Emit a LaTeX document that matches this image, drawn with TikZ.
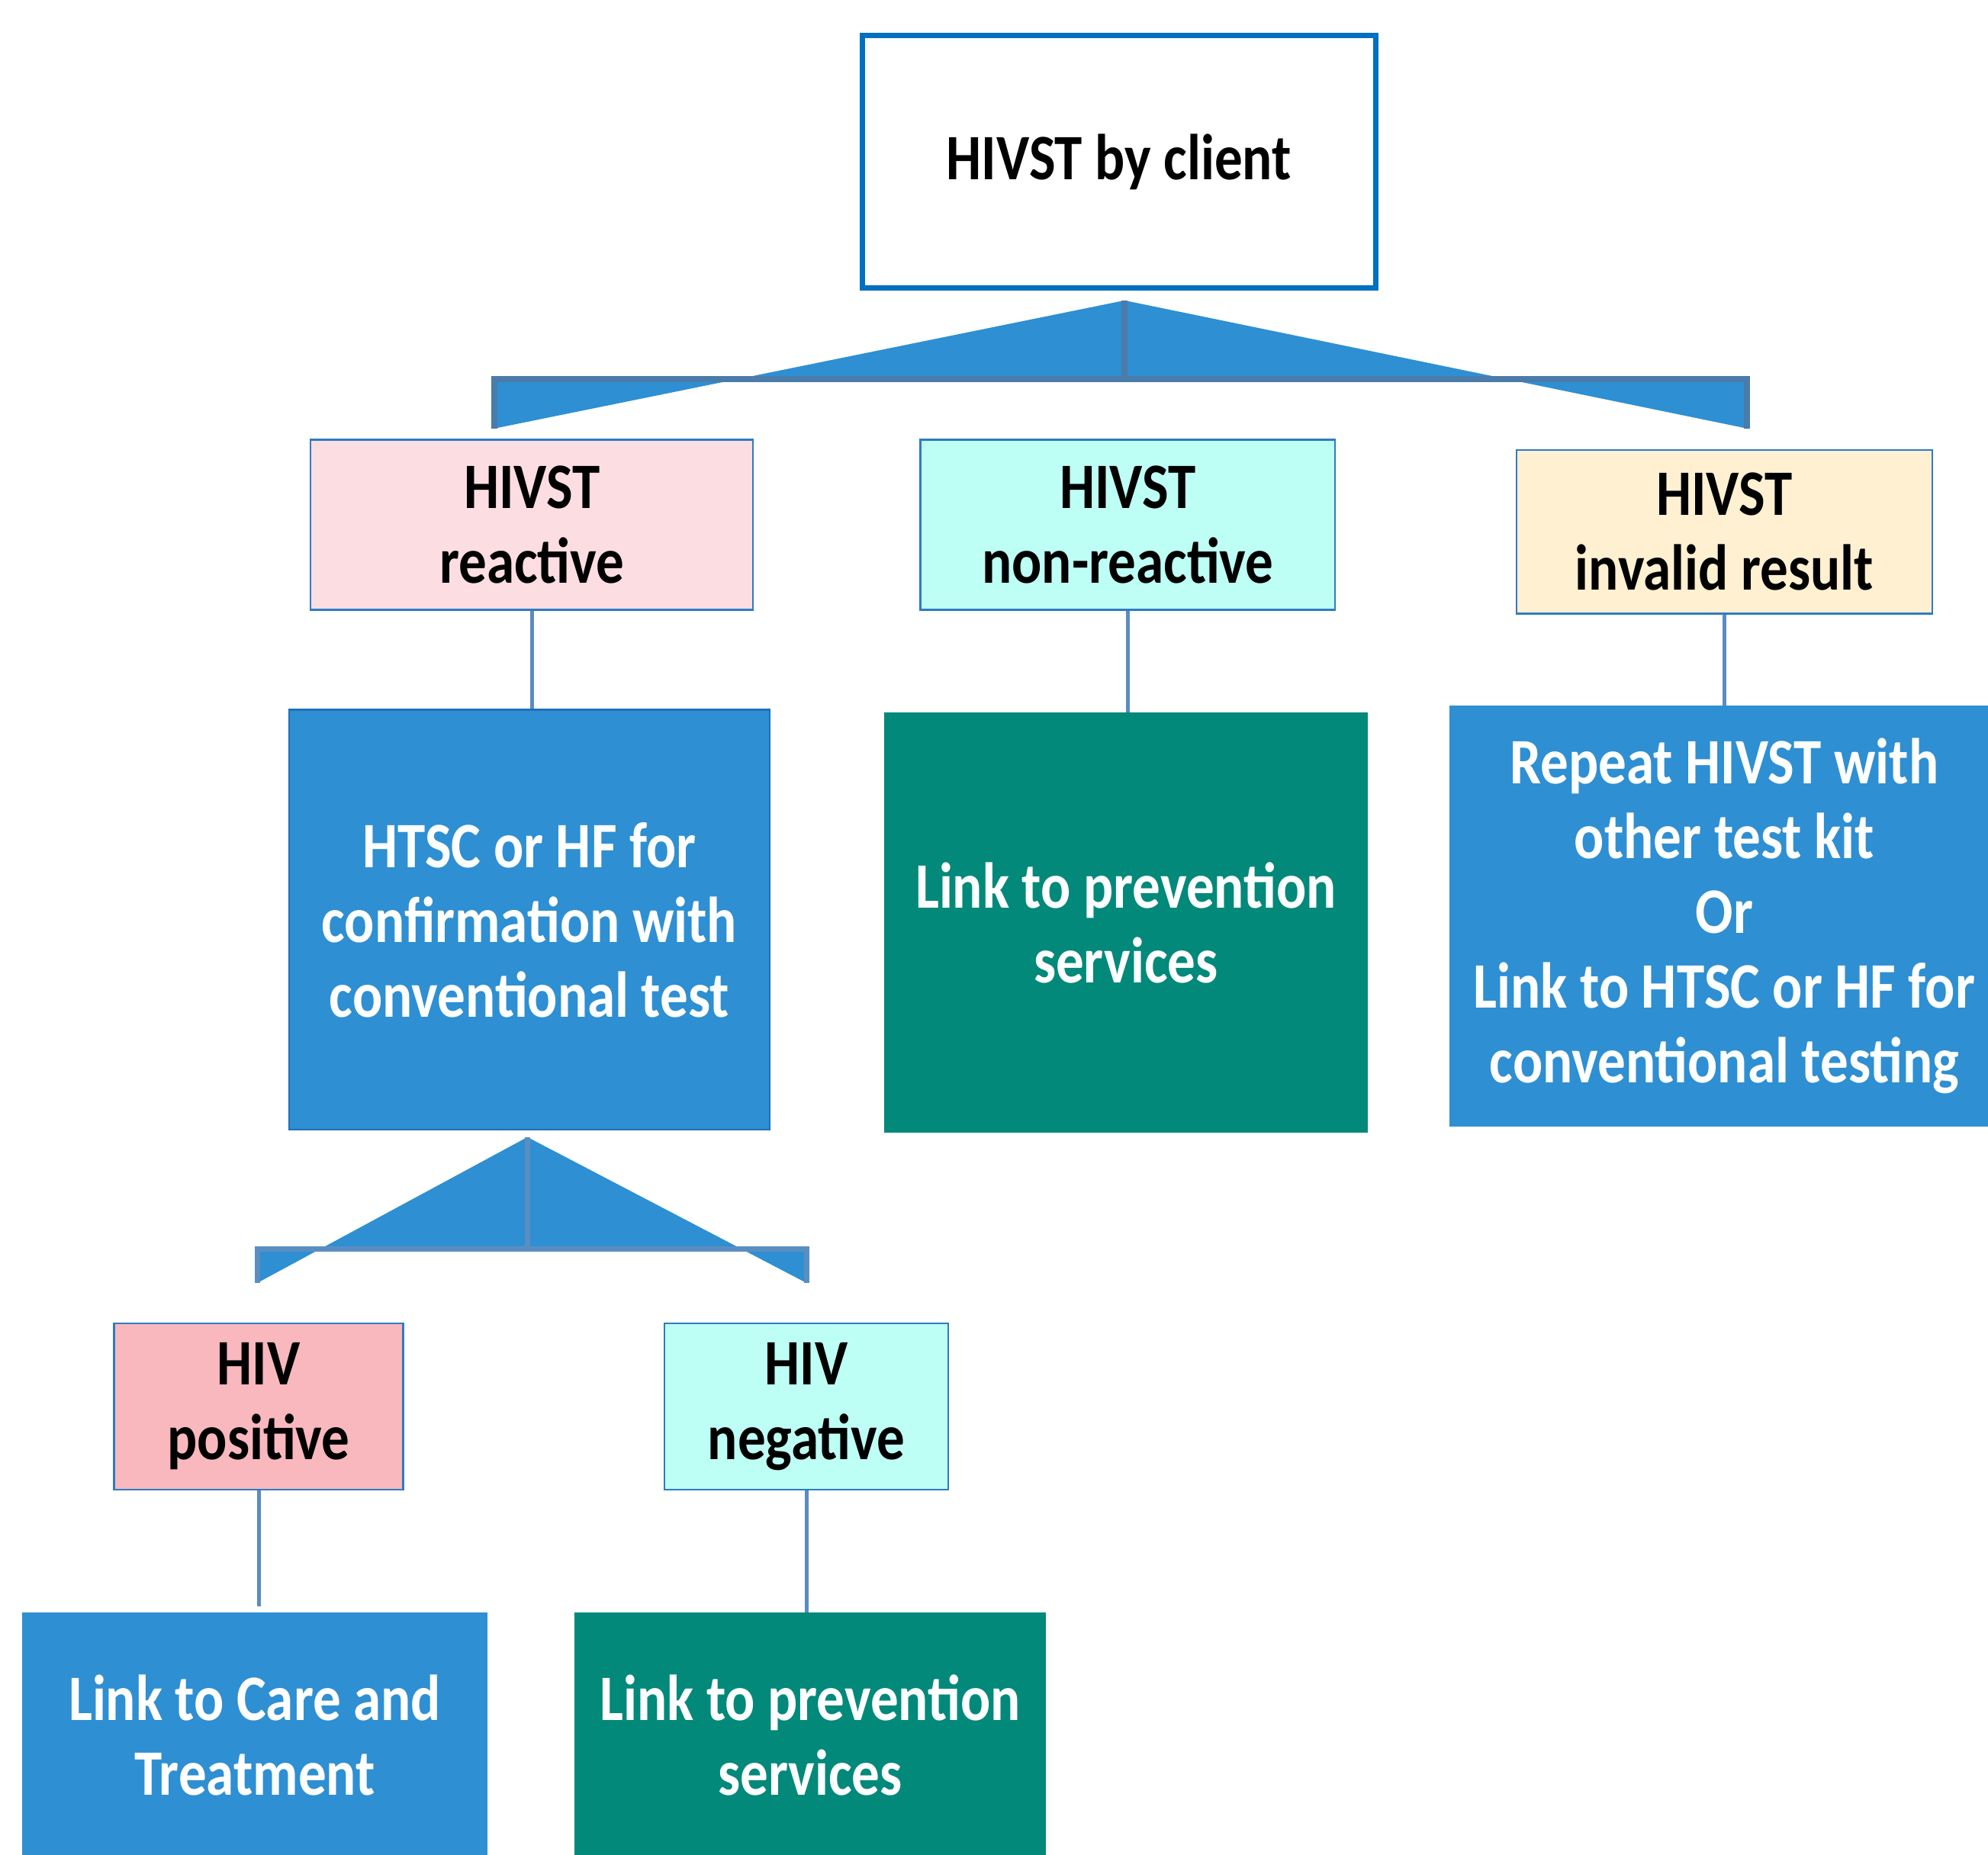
\documentclass[tikz,border=0pt]{standalone}
\usepackage{fontspec}
\setmainfont{Carlito}[FakeStretch=0.86]
\usetikzlibrary{calc}
\definecolor{topblue}{HTML}{0070C0}
\definecolor{fillblue}{HTML}{2E8FD3}
\definecolor{darkedge}{HTML}{1F70B8}
\definecolor{barcol}{HTML}{4A7BA9}
\definecolor{barcolB}{HTML}{5A8EC0}
\definecolor{conncol}{HTML}{5B8CC0}
\definecolor{thinblue}{HTML}{2E7BC4}
\definecolor{pinkA}{HTML}{FCDDE2}
\definecolor{cyanA}{HTML}{BEFFF5}
\definecolor{creamA}{HTML}{FFF0D2}
\definecolor{tealA}{HTML}{02897A}
\definecolor{pinkB}{HTML}{F8B8BD}
\tikzset{
  lbl/.style={font=\bfseries\fontsize{85}{98}\selectfont, align=center, inner sep=0pt},
  thinbox/.style={lbl, draw=thinblue, line width=2.5pt, text=black},
  bluebox/.style={lbl, fill=fillblue, draw=darkedge, line width=2.5pt, text=white},
  tealbox/.style={lbl, fill=tealA, draw=tealA, line width=2.5pt, text=white},
  conn/.style={draw=conncol, line width=5pt},
  barline/.style={draw=barcol, line width=8pt},
  barlineB/.style={draw=barcolB, line width=7pt},
  sz/.style 2 args={minimum width=#1pt, minimum height=#2pt},
}
\begin{document}
\begin{tikzpicture}[x=1.662pt, y=-1.662pt]
\useasboundingbox (0,0) rectangle (1568,1463);
\clip (0,0) rectangle (1568,1463);
% top node
\node[lbl, draw=topblue, line width=7pt, sz={673.1}{330.7}] (top) at (882.5,127.5) {HIVST by client};
% top bracket
\coordinate (apex1) at (887,237);
\coordinate (bl1) at (390,338);
\coordinate (br1) at (1378,338);
\coordinate (tl1) at (390,299);
\coordinate (tr1) at (1378,299);
\coordinate (mid1) at (887,299);
\coordinate (cl1) at ($(apex1)!0.6139!(bl1)$);
\coordinate (cr1) at ($(apex1)!0.6139!(br1)$);
\fill[fillblue] (apex1) -- (cl1) -- (cr1) -- cycle;
\fill[fillblue] (tl1) -- (cl1) -- (bl1) -- cycle;
\fill[fillblue] (tr1) -- (cr1) -- (br1) -- cycle;
\draw[barline] (bl1) -- (tl1) -- (tr1) -- (br1);
\draw[barline] (apex1) -- (mid1);
% level 1
\node[thinbox, fill=pinkA, sz={580.0}{222.7}] (react) at (419.5,414) {HIVST\\reactive};
\node[thinbox, fill=cyanA, sz={543.5}{222.7}] (nonreact) at (889.5,414) {HIVST\\non-reactive};
\node[thinbox, fill=creamA, sz={545.1}{214.4}] (invalid) at (1360,419.5) {HIVST\\invalid result};
% level 2
\node[bluebox, sz={629.9}{550.1}] (htsc) at (417.5,725.5) {HTSC or HF for\\confirmation with\\conventional test};
\node[tealbox, sz={631.6}{548.5}] (prev1) at (888,728) {Link to prevention\\services};
\node[bluebox, draw=fillblue, sz={718.0}{550.1}] (repeat) at (1360,722.5) {Repeat HIVST with\\other test kit\\Or\\Link to HTSC or HF for\\conventional testing};
\draw[conn] (react.south) -- (react.south |- htsc.north);
\draw[conn] (nonreact.south) -- (nonreact.south |- prev1.north);
\draw[conn] (invalid.south) -- (invalid.south |- repeat.north);
% lower bracket
\coordinate (apex2) at (416,897);
\coordinate (bl2) at (203,1012);
\coordinate (br2) at (636,1012);
\coordinate (tl2) at (203,985);
\coordinate (tr2) at (636,985);
\coordinate (mid2) at (416,985);
\coordinate (cl2) at ($(apex2)!0.7652!(bl2)$);
\coordinate (cr2) at ($(apex2)!0.7652!(br2)$);
\fill[fillblue] (apex2) -- (cl2) -- (cr2) -- cycle;
\fill[fillblue] (tl2) -- (cl2) -- (bl2) -- cycle;
\fill[fillblue] (tr2) -- (cr2) -- (br2) -- cycle;
\draw[barlineB] (bl2) -- (tl2) -- (tr2) -- (br2);
\draw[barlineB] (apex2) -- (mid2);
% level 3
\node[thinbox, fill=pinkB, sz={378.9}{217.7}] (pos) at (204,1109.5) {HIV\\positive};
\node[thinbox, fill=cyanA, sz={372.3}{217.7}] (neg) at (636,1109.5) {HIV\\negative};
% level 4
\node[bluebox, draw=fillblue, sz={608.3}{319.1}] (care) at (201,1369) {Link to Care and\\Treatment};
\node[tealbox, sz={614.9}{319.1}] (prev2) at (639,1369) {Link to prevention\\services};
\draw[conn] (pos.south) -- ([yshift=5*1.662pt]pos.south |- care.north);
\draw[conn] (neg.south) -- (neg.south |- prev2.north);
\end{tikzpicture}
\end{document}
